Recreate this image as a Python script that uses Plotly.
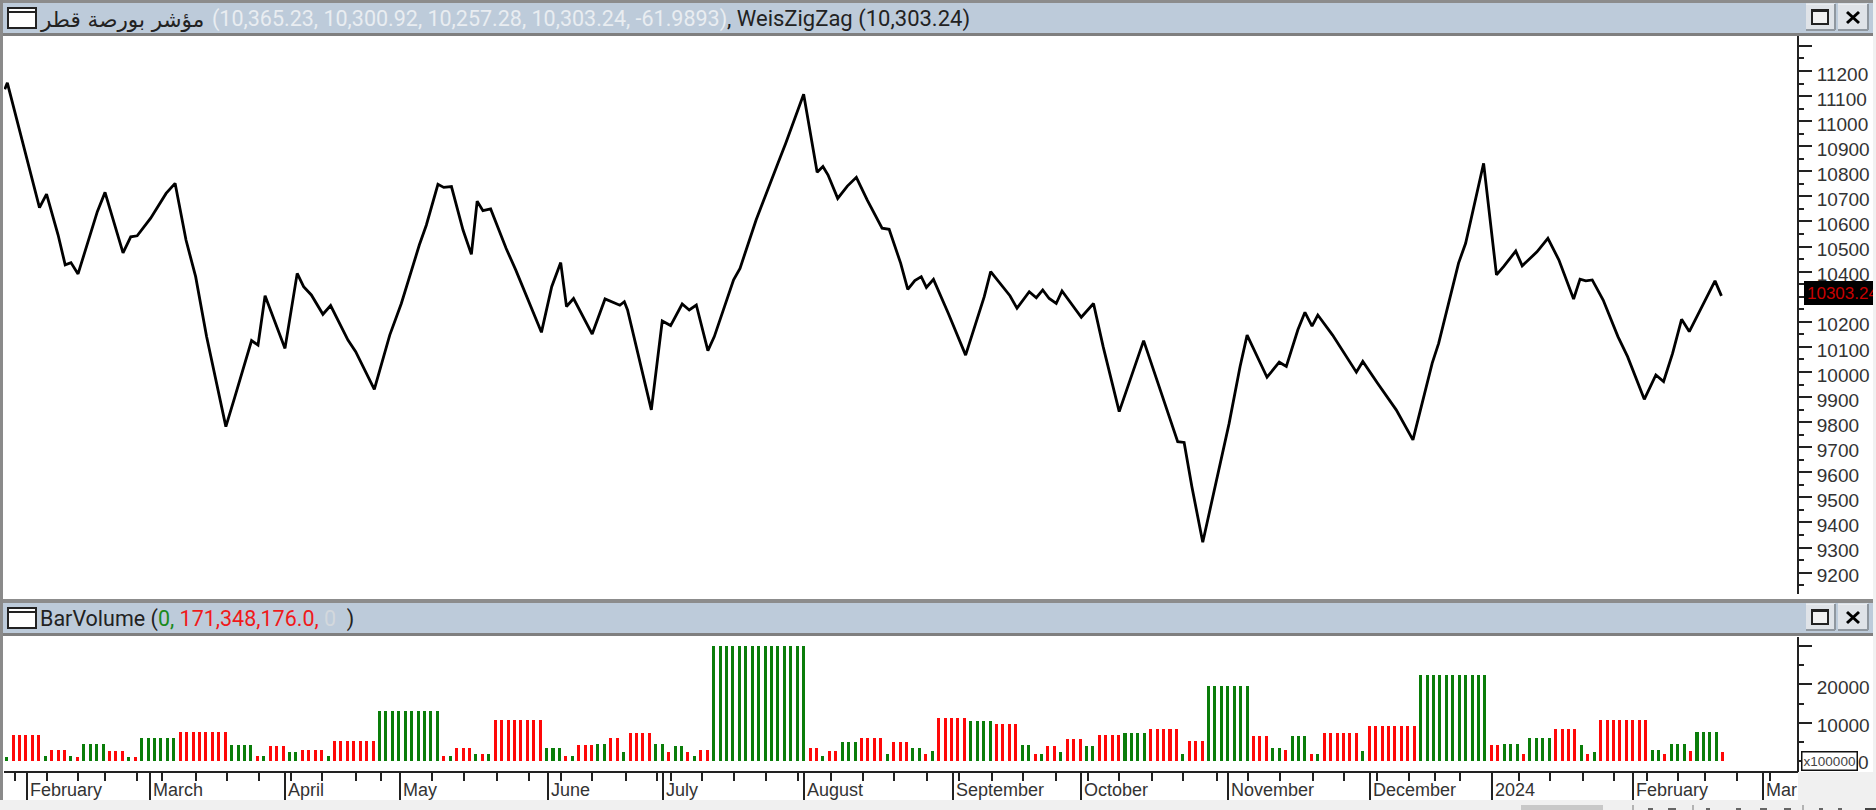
import plotly.graph_objects as go

# ---------- data ----------
line_bars = [
    -0.3, 0.1, 5.1, 6.2, 8.0, 9.1, 10.0, 11.1, 14.1, 15.3, 18.1, 19.3, 20.3, 22.4, 24.8, 26.2, 27.9, 29.4, 31.1, 34.1,
    35.5, 38.1, 39.1, 40.2, 43.3, 45.2, 46.2, 47.4, 49.2, 50.4, 53.1, 54.3, 57.2, 59.6, 61.4, 64.2, 65.3, 67.1, 68.0,
    69.2, 71.0, 72.3, 73.2, 74.1, 75.3, 77.7, 79.2, 83.2, 84.8, 86.2, 87.1, 88.2, 91.1, 93.1, 95.4,
    96.1, 96.6, 100.3, 102.0, 103.3, 105.1, 106.2, 107.3, 109.1, 110.1, 113.1, 114.1, 116.6, 120.0, 121.2, 124.0,
    126.1, 127.0, 127.8, 129.3, 130.8, 132.2, 133.9, 136.2, 137.3, 139.1, 140.2, 141.3, 142.3, 143.1, 144.2, 146.5,
    149.2, 152.1, 153.1, 156.1, 157.2, 159.1, 160.2, 161.2, 162.2, 163.3, 164.2, 167.2, 169.1, 170.6, 173.1, 176.9,
    180.3, 182.2, 183.2, 184.4, 186.1, 188.1, 190.2, 191.9,
    193.0, 196.1, 198.0, 199.1, 200.9, 202.0, 203.1, 204.0, 206.3, 210.0, 211.0, 213.3, 216.2, 218.8, 221.8, 222.8,
    225.9, 227.0, 229.8, 231.8, 232.9, 234.8, 235.8, 238.1, 239.8, 241.5, 243.8, 244.8, 245.7, 246.7, 248.4,
    250.7, 252.2, 254.8, 256.6, 257.8, 259.2, 260.6, 261.8, 265.8, 266.8,
]
line_values = [
    11127, 11153, 10655, 10709, 10546, 10427, 10436, 10391, 10639,
    10716, 10475, 10539, 10543, 10613, 10712, 10752, 10526, 10380, 10141,
    9782, 9901, 10125, 10107, 10304, 10094, 10393, 10340, 10307, 10230,
    10265, 10127, 10081, 9931, 10147, 10273, 10506, 10586, 10748, 10736,
    10739, 10566, 10469, 10681, 10643, 10650, 10493, 10407, 10158, 10340,
    10436, 10261, 10293, 10151, 10291, 10266,
    10280, 10247, 9849, 10203, 10185, 10271, 10247, 10267, 10085, 10141,
    10367, 10413, 10606, 10832, 10911, 11107, 10796, 10819, 10785, 10692,
    10741, 10776, 10685, 10573, 10569, 10433, 10329, 10364, 10380, 10337,
    10369, 10234, 10067, 10300, 10400, 10304, 10254, 10320, 10296, 10327,
    10293, 10273, 10323, 10218, 10273, 10101, 9842, 10125, 9861, 9722,
    9719, 9543, 9321, 9556, 9795, 10021,
    10147, 9979, 10039, 10022, 10168, 10238, 10183, 10227, 10147, 9999,
    10042, 9955, 9849, 9729, 10035, 10114, 10434, 10513, 10832,
    10387, 10420, 10482, 10423, 10479, 10533, 10447, 10291, 10370, 10363,
    10367, 10287, 10141, 10061, 9891, 9988, 9962, 10074, 10210, 10161,
    10363, 10303.24,
]

# Weis waves: number of bars in each wave, its volume (x100000) and direction
wave_sizes = [
    1, 5, 1, 3, 1, 1, 4, 3, 1, 1, 6, 8, 4, 1, 1, 3, 2, 4, 1, 7, 10, 1, 1, 3, 1, 1, 1, 8, 3, 1, 1, 3, 2, 2,
    1, 4, 2, 1, 2, 1, 1, 2, 15, 2, 1, 2, 3, 4, 1, 3, 2, 1, 1, 5, 4, 4, 2, 1, 1, 2, 1, 3, 2, 4, 4, 5, 1, 3, 7,
    3, 2, 1, 3, 1, 1, 6, 1, 8, 11, 2, 3, 1, 4, 4, 1, 1, 1, 8, 2, 1, 3, 1, 4, 1,
]
wave_volumes = [
    1100, 6900, 1400, 3000, 1400, 1100, 4560, 2600, 1100, 1100, 6100, 7660, 4130, 1400, 1400, 3800, 2240, 3000,
    1400, 5340, 13090, 1400, 1400, 3440, 1800, 1800, 1800, 10760, 3440, 1400, 1400, 4130, 4560, 6100,
    2240, 7320, 4560, 2240, 3800, 2240, 1400, 3000, 30100, 3440, 1400, 2600, 4900, 6100, 1800, 4900, 3440, 1800,
    2600, 11200, 10400, 9640, 4130, 1800, 1800, 3800, 2240, 5680, 3800, 6900, 7320, 8440, 1800, 5340, 19630,
    6460, 3360, 3000, 6460, 1800, 1800, 7320, 2600, 9200, 22400, 4130, 4560, 1800, 6100, 8440, 4130, 1800, 2240,
    10760, 3000, 1800, 4560, 2600, 7660, 2240,
]
wave_dirs = [
    "g", "r", "g", "r", "g", "r", "g", "r", "g", "r", "g", "r", "g", "r", "g", "r", "g", "r", "g", "r", "g", "r", "g", "r",
    "g", "r", "g", "r", "g", "r", "g", "r", "g", "r",
    "g", "r", "g", "r", "g", "r", "g", "r", "g", "r", "g", "r", "g", "r", "g", "r", "g", "r", "g", "r", "g", "r", "g", "r",
    "g", "r", "g", "r", "g", "r", "g", "r", "g", "r", "g",
    "r", "g", "r", "g", "r", "g", "r", "g", "r", "g", "r", "g", "r", "g", "r", "g", "r", "g", "r", "g", "r", "g", "r", "g", "r",
]

month_labels = ["February", "March", "April", "May", "June", "July", "August", "September", "October",
                "November", "December", "2024", "February", "Mar"]
month_ticks = [3.16, 22.3, 43.25, 61.2, 84.2, 102.1, 124, 147.2, 167.2, 190, 212.1, 231.1, 253.1, 273.3]
week_ticks = [1.3, 6.2, 11.1, 15.3, 20.3, 24.2, 29.4, 34.3, 39.2, 44.2, 49.1, 54.3, 58.3, 66.2, 71.1, 76.3, 81.2,
              86.2, 91.1, 96.3, 101.2, 103.3, 108.2, 113.1, 118.2, 123.1, 128.3, 133.2, 138.1, 143.2, 148.1, 153.3,
              158.2, 163.2, 168.2, 173.1, 178.2, 183.1, 188.3, 193.2, 198.1, 203.3, 208.1, 213.2, 218.2, 222.2,
              226.2, 235.3, 240.1, 245.2, 250.1, 255.2, 260.1, 264.2, 269.3, 274.4]

price_major = [9200, 9300, 9400, 9500, 9600, 9700, 9800, 9900, 10000, 10100, 10200, 10300, 10400, 10500, 10600,
               10700, 10800, 10900, 11000, 11100, 11200, 11300]
price_unlabeled = [10300, 11300]      # hidden behind the last-price flag / no label at the top
price_minor = [9150, 9250, 9350, 9450, 9550, 9650, 9750, 9850, 9950, 10050, 10150, 10250, 10350, 10450, 10550,
               10650, 10750, 10850, 10950, 11050, 11150, 11250]
volume_major = [0, 10000, 20000, 30000]
volume_minor = [5000, 15000, 25000]
volume_labels = ["", "10000", "20000", ""]

last_price = "10303.24"
title_name = "مؤشر بورصة قطر"
title_ohlc = "(10,365.23, 10,300.92, 10,257.28, 10,303.24, -61.9893)"
title_zigzag = ", WeisZigZag (10,303.24)"

# ---------- styles ----------
W, H = 1876, 810
GREEN, RED = "#0a7d0a", "#ff0808"
TITLE_BG = "#bdcbda"
EDGE = "#7f7f7f"
TEXT = "#333333"
UI_FONT = "Roboto"
AXIS_FONT = "Liberation Sans"


def fx(px):
    return px / W


def fy(py):
    return 1 - py / H


# expand waves to one bar per session
bar_values, bar_colors = [], []
for n, v, d in zip(wave_sizes, wave_volumes, wave_dirs):
    bar_values += [v] * n
    bar_colors += [GREEN if d == "g" else RED] * n
bar_index = list(range(len(bar_values)))

fig = go.Figure()
fig.add_trace(go.Scatter(x=line_bars, y=line_values, mode="lines", xaxis="x2", yaxis="y2",
                         line=dict(color="#000000", width=2.8), hoverinfo="skip", showlegend=False))
fig.add_trace(go.Bar(x=bar_index, y=bar_values, width=0.47, marker=dict(color=bar_colors, line_width=0),
                     xaxis="x", yaxis="y", hoverinfo="skip", showlegend=False))

x_range = [(4 - 6.7) / 6.427, (1797 - 6.7) / 6.427]
x_domain = [fx(4), fx(1797)]
shapes = []


def rect(x0, y0, x1, y1, fill, line=None, lw=0):
    shapes.append(dict(type="rect", xref="paper", yref="paper", x0=fx(x0), x1=fx(x1), y0=fy(y0), y1=fy(y1),
                       fillcolor=fill, line=dict(color=line or fill, width=lw), layer="above"))


def seg(x0, y0, x1, y1, color, lw):
    shapes.append(dict(type="line", xref="paper", yref="paper", x0=fx(x0), x1=fx(x1), y0=fy(y0), y1=fy(y1),
                       line=dict(color=color, width=lw), layer="above"))


def title_bar(top):
    rect(0, top - 1, W - 3, top + 3, "#8c8c8c")
    rect(3, top + 3, W - 3, top + 33, TITLE_BG)
    rect(0, top + 33, W - 3, top + 36, EDGE)
    # pane icon
    rect(8, top + 8, 36, top + 28, "#ffffff", "#222222", 2)
    seg(8, top + 12, 36, top + 12, "#222222", 2)
    # restore button
    rect(1806, top + 4, 1835, top + 30, "#dfe3e8")
    seg(1806, top + 4, 1835, top + 4, "#f6f6f6", 1)
    seg(1806, top + 30, 1835, top + 30, "#8f979f", 2)
    seg(1835, top + 4, 1835, top + 30, "#8f979f", 2)
    rect(1812, top + 10, 1828, top + 24, "#f2f2f2", "#222222", 2)
    seg(1812, top + 11, 1828, top + 11, "#222222", 2)
    # close button
    rect(1838, top + 4, 1868, top + 30, "#dfe3e8")
    seg(1838, top + 4, 1868, top + 4, "#f6f6f6", 1)
    seg(1838, top + 30, 1868, top + 30, "#8f979f", 2)
    seg(1868, top + 4, 1868, top + 30, "#8f979f", 2)
    seg(1847, top + 12, 1859, top + 23, "#000000", 3)
    seg(1859, top + 12, 1847, top + 23, "#000000", 3)


title_bar(0)
title_bar(600)
rect(0, 0, 3, 800, "#8a8a8a")                 # left frame
rect(W - 3, 0, W, 800, "#f1f1f1")             # right frame
rect(1798, 772, W, 810, "#f0f0f0")            # under the value axis
rect(0, 800, W, 810, "#f0f0f0")               # status strip
rect(1521, 805, 1603, 810, "#c8c8c8")         # scroll thumb
for px in (1633, 1693, 1803):
    seg(px, 805, px, 810, "#777777", 1)
for px, wd in ((1648, 5), (1668, 8), (1706, 4), (1736, 5), (1760, 7), (1784, 7), (1819, 4), (1838, 4)):
    rect(px, 808, px + wd, 810, "#666666")
rect(1865, 808, W, 810, "#444444")
rect(1804, 281, 1873, 305, "#000000")         # last price flag

annotations = []


def note(text, px, py, size, color, font=UI_FONT, xanchor="left", **kw):
    annotations.append(dict(text=text, xref="paper", yref="paper", x=fx(px), y=fy(py), xanchor=xanchor,
                            yanchor="middle", showarrow=False, borderpad=0, borderwidth=kw.pop("borderwidth", 0),
                            font=dict(family=font, size=size, color=color), **kw))


note(title_name, 40, 19, 21.5, "#222222", font="DejaVu Sans, Noto Sans")
note(title_ohlc, 212, 19, 21.5, "#e9edf1")
note(title_zigzag, 727, 19, 22, "#222222")
note('BarVolume (<span style="color:#1a8a1a">0,</span> <span style="color:#f01a1a">171,348,176.0,</span> '
     '<span style="color:#d3d8dd">0</span>  )', 40, 619, 21.5, "#222222")
note(last_price, 1807, 293, 17, "#c80000", font=AXIS_FONT, width=66, align="left")
note("0", 1858, 762, 19, TEXT, font=AXIS_FONT)
note("x100000", 1801, 760.5, 13.5, "#444444", font=AXIS_FONT, bgcolor="#ffffff", bordercolor="#111111",
     borderwidth=1.5, width=54, height=17, align="center")

for label, tick in zip(month_labels, month_ticks):
    annotations.append(dict(text=label, xref="x", yref="paper", x=tick, y=fy(790), xanchor="left", yanchor="middle",
                            xshift=2, showarrow=False, borderpad=0,
                            font=dict(family=AXIS_FONT, size=18, color=TEXT)))

fig.update_layout(
    width=W, height=H, autosize=False, margin=dict(l=0, r=0, t=0, b=0, pad=0),
    paper_bgcolor="#ffffff", plot_bgcolor="#ffffff", showlegend=False, bargap=0, barmode="overlay",
    shapes=shapes, annotations=annotations,
    xaxis=dict(domain=x_domain, range=x_range, anchor="y", showgrid=False, zeroline=False, showline=True,
               linecolor="#222222", linewidth=2, ticks="outside", tickmode="array", tickvals=month_ticks,
               ticklen=29, tickwidth=2, tickcolor="#222222", showticklabels=False,
               minor=dict(tickmode="array", tickvals=week_ticks, ticks="outside", ticklen=8, tickwidth=2,
                          tickcolor="#222222", showgrid=False)),
    xaxis2=dict(domain=x_domain, range=x_range, anchor="y2", showgrid=False, zeroline=False, showline=False,
                showticklabels=False, ticks=""),
    yaxis=dict(domain=[fy(771), fy(637)], range=[-2611, 32376], anchor="x", side="right", showgrid=False,
               zeroline=False, showline=True, linecolor="#222222", linewidth=2, ticks="outside", tickmode="array",
               tickvals=volume_major, ticktext=volume_labels, ticklen=13, tickwidth=2, tickcolor="#222222",
               ticklabelstandoff=1, ticklabelshift=3, tickfont=dict(family=AXIS_FONT, size=19, color=TEXT),
               minor=dict(tickmode="array", tickvals=volume_minor, ticks="outside", ticklen=5, tickwidth=2,
                          tickcolor="#222222", showgrid=False)),
    yaxis2=dict(domain=[fy(594), fy(34)], range=[9114.7, 11347.5], anchor="x2", side="right", showgrid=False,
                zeroline=False, showline=True, linecolor="#222222", linewidth=2, ticks="outside", tickmode="array",
                tickvals=price_major, ticktext=["" if v in price_unlabeled else str(v) for v in price_major],
                ticklen=13, tickwidth=2, tickcolor="#222222", ticklabelstandoff=1, ticklabelshift=3,
                tickfont=dict(family=AXIS_FONT, size=19, color=TEXT),
                minor=dict(tickmode="array", tickvals=price_minor, ticks="outside", ticklen=5, tickwidth=2,
                           tickcolor="#222222", showgrid=False)),
)

fig.write_html("out.html", config={"displayModeBar": False},
               post_script="document.body.style.margin='0';document.documentElement.style.overflow='hidden';")
